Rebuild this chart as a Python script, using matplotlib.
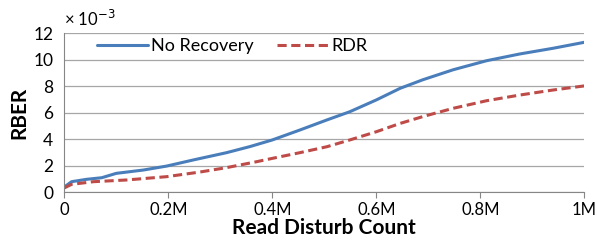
import matplotlib.pyplot as plt

plt.rcParams['font.family'] = ['Lato', 'DejaVu Sans']

# read disturb count (millions) and RBER (x 1e-3)
count_nr = [0, 0.014, 0.043, 0.072, 0.1, 0.152, 0.197, 0.248, 0.312, 0.357, 0.4,
            0.453, 0.505, 0.549, 0.6, 0.646, 0.69, 0.748, 0.812, 0.876, 0.94, 1.0]
rber_nr = [0.4, 0.8, 0.98, 1.1, 1.43, 1.68, 1.98, 2.44, 2.99, 3.45, 3.95,
           4.7, 5.46, 6.08, 6.97, 7.85, 8.5, 9.25, 9.93, 10.44, 10.87, 11.32]

count_rdr = [0, 0.014, 0.056, 0.12, 0.197, 0.261, 0.312, 0.37, 0.4, 0.453,
             0.505, 0.549, 0.6, 0.646, 0.69, 0.748, 0.812, 0.876, 0.94, 1.0]
rber_rdr = [0.33, 0.6, 0.8, 0.93, 1.18, 1.53, 1.86, 2.31, 2.56, 2.99,
            3.44, 3.95, 4.57, 5.2, 5.72, 6.34, 6.91, 7.34, 7.72, 8.03]

xticks = [0, 0.2, 0.4, 0.6, 0.8, 1.0]
xtick_labels = ['0', '0.2M', '0.4M', '0.6M', '0.8M', '1M']
yticks = [0, 2, 4, 6, 8, 10, 12]

blue = '#4A7EBB'
red = '#BE4B48'

fig = plt.figure(figsize=(5.97, 2.42), dpi=100)
ax = fig.add_axes([0.1077, 0.2054, 0.871, 0.657])

ax.plot(count_nr, rber_nr, color=blue, lw=2.2, label='No Recovery',
        solid_joinstyle='round', solid_capstyle='round')
ax.plot(count_rdr, rber_rdr, color=red, lw=2.2, ls=(0, (3, 1.5)), label='RDR')

ax.set_xlim(0, 1.0)
ax.set_ylim(0, 12)
ax.set_xticks(xticks)
ax.set_xticklabels(xtick_labels)
ax.set_yticks(yticks)
ax.tick_params(axis='x', labelsize=12, length=4, color='#868686', pad=3)
ax.tick_params(axis='y', labelsize=12.5, length=0, pad=8)
ax.grid(axis='y', color='#A6A6A6', lw=0.9)
ax.set_axisbelow(True)
for s in ['top', 'right']:
    ax.spines[s].set_visible(False)
ax.spines['bottom'].set_color('#868686')
ax.spines['left'].set_color('#868686')

ax.set_ylabel('RBER', fontsize=15, weight='bold', labelpad=3)
ax.set_xlabel('Read Disturb Count', fontsize=15, weight='bold', labelpad=0)

ax.text(0.0, 1.03, '\u00d7 10$^{-3}$', transform=ax.transAxes,
        fontsize=12, ha='left', va='bottom')

ax.legend(loc='center left', bbox_to_anchor=(0.063, 0.92), ncol=2, frameon=False,
          fontsize=13, handlelength=2.8, handletextpad=0.2, columnspacing=1.3,
          borderpad=0, borderaxespad=0)

fig.savefig('out.png', dpi=100)
